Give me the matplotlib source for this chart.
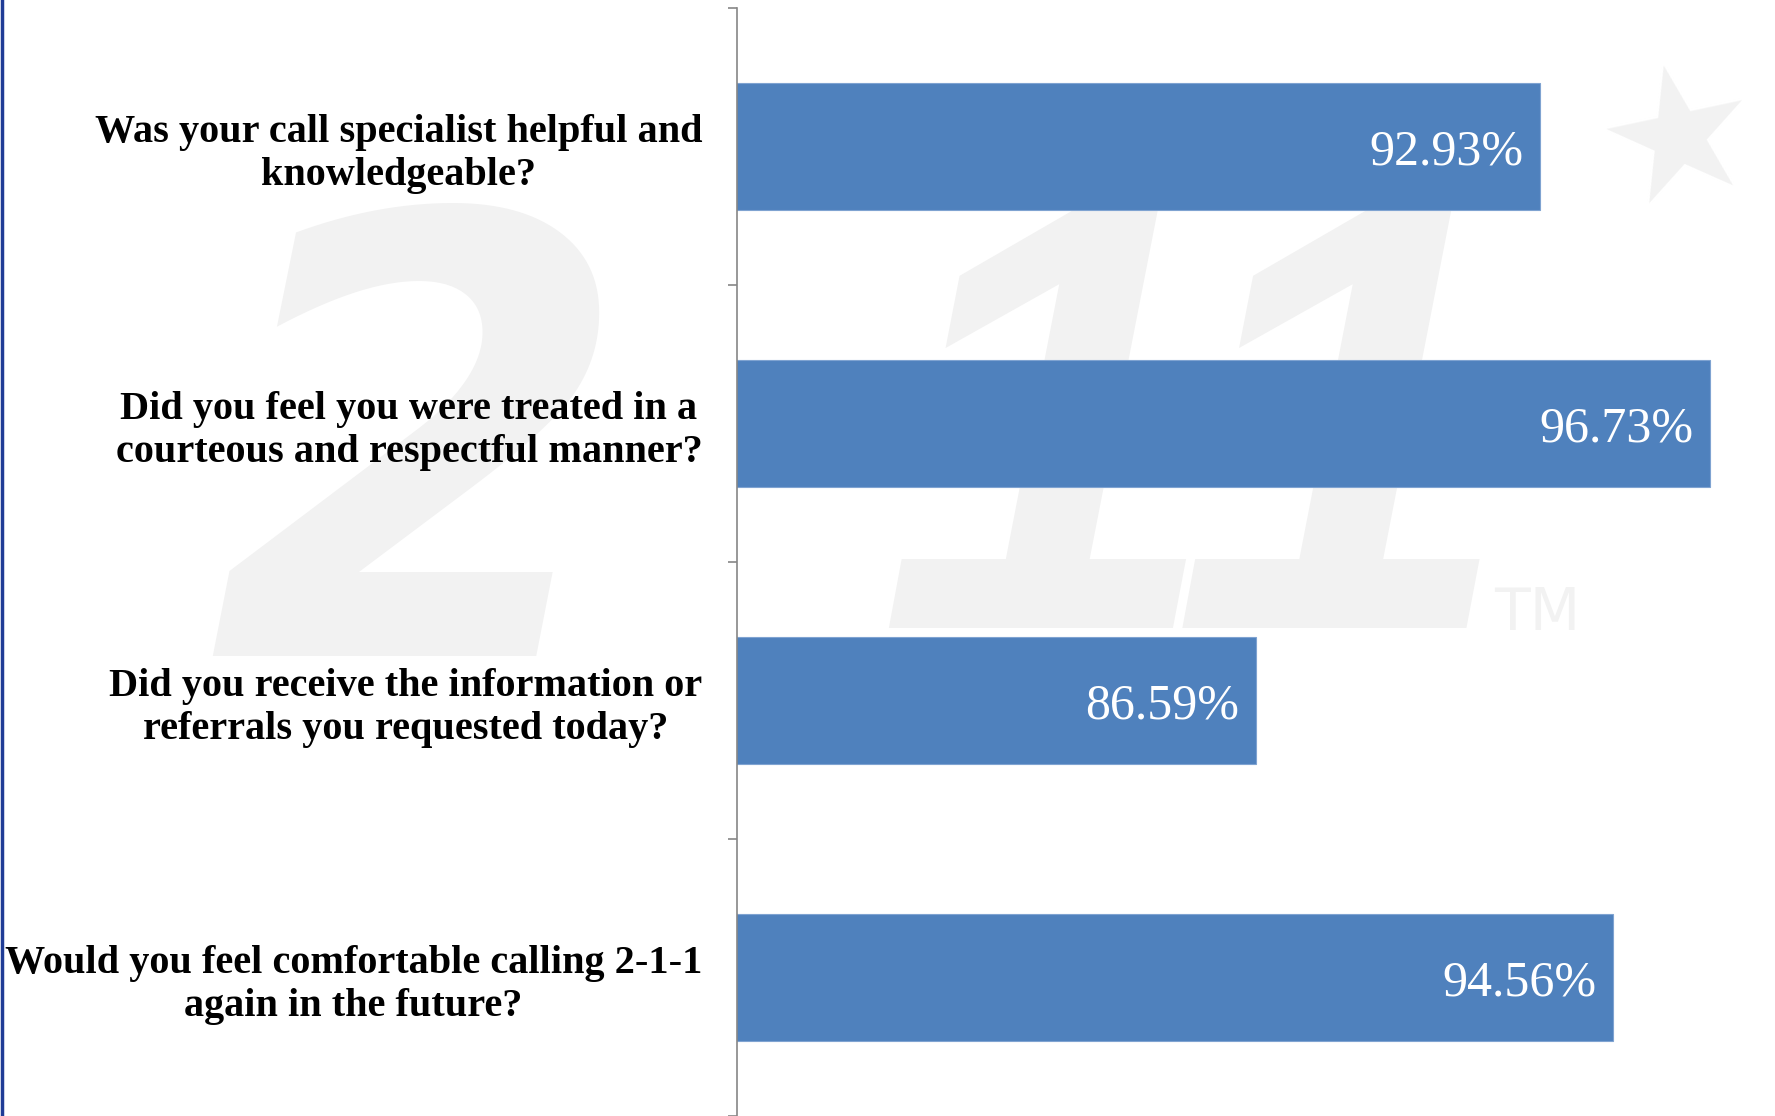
import numpy as np
import matplotlib
matplotlib.use('Agg')
import matplotlib.pyplot as plt
from matplotlib.lines import Line2D

# survey questions, top to bottom
questions = [
    'Was your call specialist helpful and\nknowledgeable?',
    'Did you feel you were treated in a\ncourteous and respectful manner?',
    'Did you receive the information or\nreferrals you requested today?',
    'Would you feel comfortable calling 2-1-1\nagain in the future?',
]
percent_yes = [92.93, 96.73, 86.59, 94.56]
value_labels = ['92.93%', '96.73%', '86.59%', '94.56%']

bar_colour = '#4f81bd'
axis_colour = '#868686'
watermark_colour = '#f2f2f2'

W, H = 1775, 1116
fig = plt.figure(figsize=(W / 100, H / 100), dpi=100)
fig.patch.set_facecolor('white')

# faint 2-1-1 logo watermark behind the chart
fig.text(420 / W, 1 - 487 / H, '2', fontsize=440, fontweight='bold',
         style='oblique', family='DejaVu Sans', color=watermark_colour,
         ha='center', va='center', zorder=-5)
fig.text(1195 / W, 1 - 470 / H, '11', fontsize=440, fontweight='bold',
         style='italic', family='Liberation Sans', color=watermark_colour,
         ha='center', va='center', zorder=-5)
fig.text(1680 / W, 1 - 142 / H, '\u2605', fontsize=130, family='DejaVu Sans',
         color=watermark_colour, ha='center', va='center', rotation=12,
         zorder=-5)
fig.text(1537 / W, 1 - 614 / H, 'TM', fontsize=42, family='DejaVu Sans',
         color=watermark_colour, ha='center', va='center', zorder=-5)

# plot area: axis line at x=737px, top at y=8px, runs off the bottom/right
left = 737 / W
top = 8 / H
ax = fig.add_axes([left, 0, 1 - left, 1 - top])
ax.set_facecolor('none')

y = np.arange(len(questions))
ax.barh(y, percent_yes, left=0, height=0.455, color=bar_colour,
        edgecolor='#7fa3d1', linewidth=0.8, zorder=2)

x_min = 75.0
x_max = 75.0 + (W - 737) / 44.77
ax.set_xlim(x_min, x_max)
ax.set_ylim(len(questions) - 0.5, -0.5)

for yi, v, lab in zip(y, percent_yes, value_labels):
    ax.annotate(lab, xy=(v, yi), xytext=(-12, -4), textcoords='offset points',
                ha='right', va='center', color='white', fontsize=36,
                family='Liberation Serif', zorder=3)

# category labels: centered lines, right aligned block
ax.set_yticks(y)
ax.set_yticklabels(questions, fontsize=29, fontweight='bold',
                   family='Liberation Serif', multialignment='center',
                   linespacing=1.2)
ax.set_yticks(np.arange(len(questions) + 1) - 0.5, minor=True)
ax.tick_params(axis='y', which='major', length=0, pad=25)
ax.tick_params(axis='y', which='minor', length=6.5, width=1.2,
               color=axis_colour, direction='out')
ax.set_xticks([])

for side in ['top', 'right', 'bottom']:
    ax.spines[side].set_visible(False)
ax.spines['left'].set_color(axis_colour)
ax.spines['left'].set_linewidth(1.2)

# thin dark blue border on the far left
fig.add_artist(Line2D([1.5 / W, 1.5 / W], [0, 1], transform=fig.transFigure,
                      color='#1f3c96', linewidth=2.5))

fig.savefig('out.png', dpi=100)
